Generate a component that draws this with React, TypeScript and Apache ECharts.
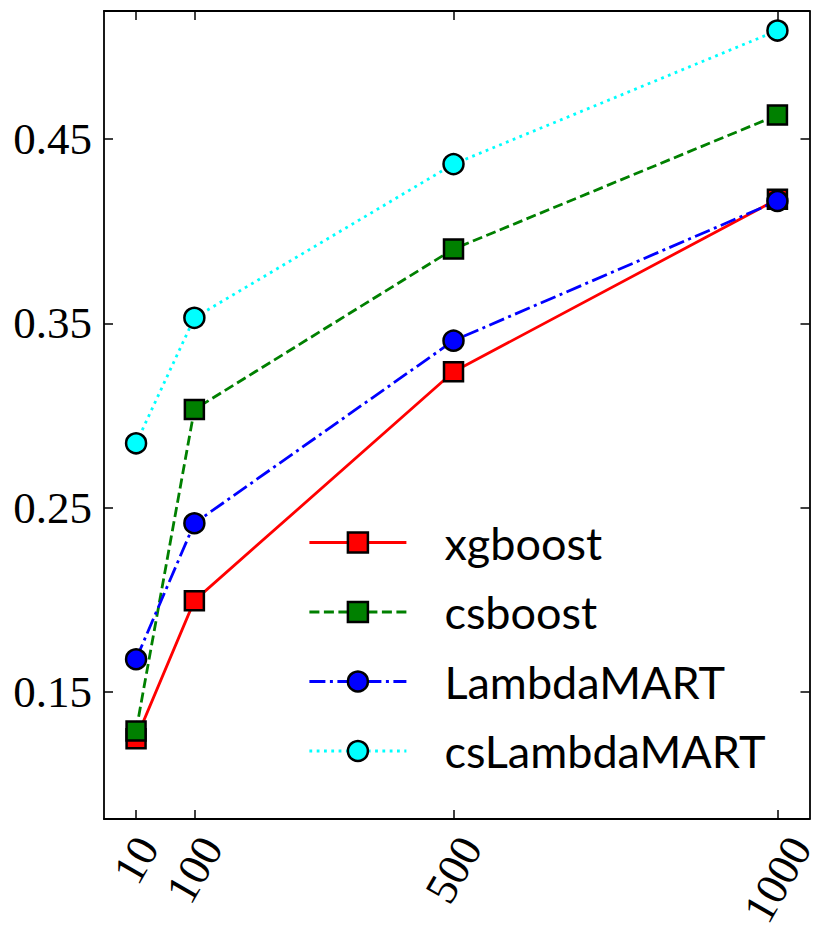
import React, { useEffect, useRef } from "react";
import * as echarts from "echarts";

const xValues = [10, 100, 500, 1000];
const xgboost = [0.1245, 0.1995, 0.3237, 0.4174];
const csboost = [0.1288, 0.3033, 0.3903, 0.463];
const lambdaMART = [0.1677, 0.2415, 0.3406, 0.4164];
const csLambdaMART = [0.2849, 0.353, 0.4364, 0.5089];
const xTicks = [10, 100, 500, 1000];
const yTicks = [0.15, 0.25, 0.35, 0.45];
const seriesNames = ["xgboost", "csboost", "LambdaMART", "csLambdaMART"];

const SERIF = "'Liberation Serif', 'DejaVu Serif', serif";
const SANS = "Lato, 'Open Sans', 'DejaVu Sans', sans-serif";
const LABEL_FS = 45;
const LINE_W = 2.8;
const BORDER_W = 2.5;

export default function App() {
  const ref = useRef<HTMLDivElement>(null);
  useEffect(() => {
    if (!ref.current) return;
    const chart = echarts.init(ref.current, null, { renderer: "svg" });

    // rich styles shifting rotated labels so their bounding box top aligns (matplotlib style)
    const rich: Record<string, any> = {};
    xTicks.forEach((v) => {
      const D = (String(v).length - 2) * LABEL_FS * 0.5 * 0.433;
      rich["l" + v] = {
        fontFamily: SERIF,
        fontSize: LABEL_FS,
        color: "#000",
        padding: [D, 1.732 * D, 0, 0],
      };
    });

    const axisLineStyle = { color: "#000", width: 1.8 };
    const tickStyle = { color: "#000", width: 1.5 };
    const xRange = { min: -39.5, max: 1049.5 };
    const yRange = { min: 0.081, max: 0.5195 };

    const mk = (
      name: string,
      vals: number[],
      color: string,
      symbol: string,
      type: any
    ) => ({
      name,
      type: "line",
      data: xValues.map((x, i) => [x, vals[i]]),
      symbol,
      symbolSize: symbol === "rect" ? 19 : 20,
      showSymbol: true,
      lineStyle: { color, width: LINE_W, type },
      itemStyle: { color, borderColor: "#000", borderWidth: BORDER_W },
      emphasis: { disabled: true },
    });

    chart.setOption({
      animation: false,
      backgroundColor: "#fff",
      grid: { left: 104, top: 11, right: 20.5, bottom: 124, containLabel: false },
      xAxis: [
        {
          type: "value",
          position: "bottom",
          ...xRange,
          axisLine: { show: true, onZero: false, lineStyle: axisLineStyle },
          axisTick: { show: true, inside: true, length: 9, customValues: xTicks, lineStyle: tickStyle },
          axisLabel: {
            show: true,
            customValues: xTicks,
            rotate: 60,
            align: "center",
            verticalAlign: "middle",
            margin: 41,
            fontFamily: SERIF,
            fontSize: LABEL_FS,
            color: "#000",
            formatter: (v: number) => `{l${v}|${v}}`,
            rich,
          },
          splitLine: { show: false },
        },
        {
          type: "value",
          position: "top",
          ...xRange,
          axisLine: { show: true, onZero: false, lineStyle: axisLineStyle },
          axisTick: { show: true, inside: true, length: 9, customValues: xTicks, lineStyle: tickStyle },
          axisLabel: { show: false },
          splitLine: { show: false },
        },
      ],
      yAxis: [
        {
          type: "value",
          position: "left",
          ...yRange,
          axisLine: { show: true, onZero: false, lineStyle: axisLineStyle },
          axisTick: { show: true, inside: true, length: 9, customValues: yTicks, lineStyle: tickStyle },
          axisLabel: {
            show: true,
            customValues: yTicks,
            margin: 12,
            fontFamily: SERIF,
            fontSize: LABEL_FS,
            color: "#000",
            formatter: (v: number) => v.toFixed(2),
          },
          splitLine: { show: false },
        },
        {
          type: "value",
          position: "right",
          ...yRange,
          axisLine: { show: true, onZero: false, lineStyle: axisLineStyle },
          axisTick: { show: true, inside: true, length: 9, customValues: yTicks, lineStyle: tickStyle },
          axisLabel: { show: false },
          splitLine: { show: false },
        },
      ],
      legend: {
        data: seriesNames,
        orient: "vertical",
        left: 308,
        top: 520,
        padding: 0,
        itemWidth: 97,
        itemHeight: 25,
        itemGap: 24.5,
        selectedMode: false,
        lineStyle: { width: LINE_W },
        itemStyle: { borderWidth: BORDER_W, borderColor: "#000" },
        textStyle: {
          fontFamily: SANS,
          fontSize: LABEL_FS,
          color: "#000",
          padding: [0, 0, 0, 33],
        },
      },
      series: [
        mk(seriesNames[0], xgboost, "#ff0000", "rect", "solid"),
        mk(seriesNames[1], csboost, "#008000", "rect", [10, 4.5]),
        mk(seriesNames[2], lambdaMART, "#0000ff", "circle", [16, 4.5, 3, 4.5]),
        mk(seriesNames[3], csLambdaMART, "#00ffff", "circle", [2.8, 4.5]),
      ],
    });
    return () => chart.dispose();
  }, []);
  return (
    <div
      ref={ref}
      style={{ position: "absolute", left: 0, top: 0, width: 830, height: 943 }}
    />
  );
}
